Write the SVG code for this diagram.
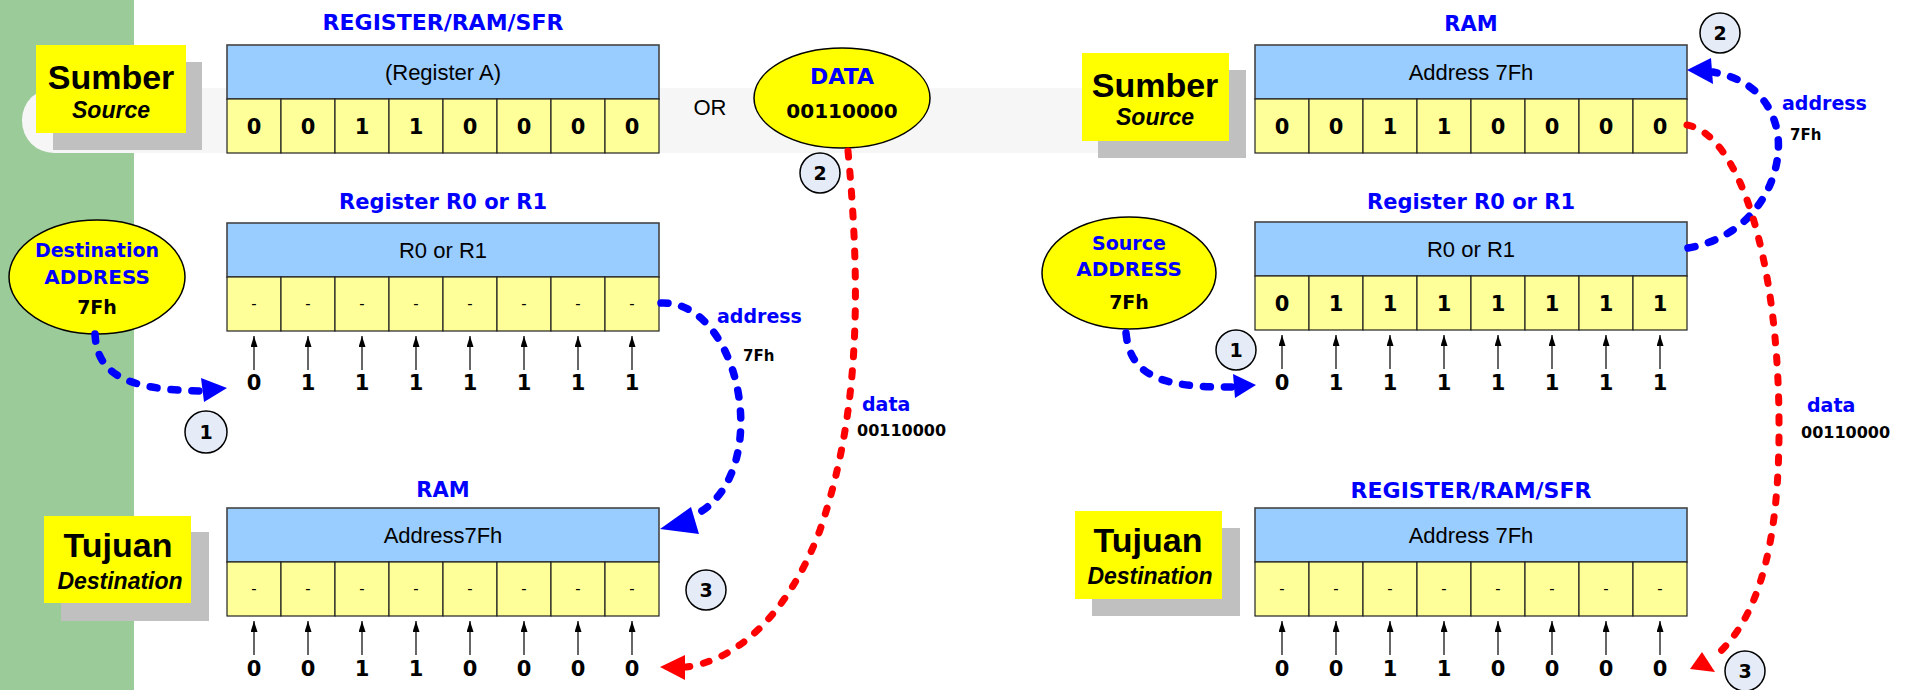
<svg xmlns="http://www.w3.org/2000/svg" xmlns:xlink="http://www.w3.org/1999/xlink" width="1911" height="690" viewBox="0 0 1911 690">
  <style>
    .hdr { fill: #99ccff; stroke: #444; stroke-width: 1.6; }
    .cell { fill: #ffff99; stroke: #222; stroke-width: 1.2; }
    .tag { fill: #ffff00; }
    .shadow { fill: #c0c0c0; }
    .ell { fill: #ffff00; stroke: #000; stroke-width: 1.5; }
    .step { fill: #e6ecf7; stroke: #000; stroke-width: 1.5; }
    .stepn { font-family: "DejaVu Sans", sans-serif; font-weight: bold; font-size: 19px; text-anchor: middle; fill: #000; }
    .lbl { font-family: "DejaVu Sans", sans-serif; font-weight: bold; font-size: 21px; fill: #0000ff; text-anchor: middle; }
    .elbl { font-family: "DejaVu Sans", sans-serif; font-weight: bold; font-size: 19px; fill: #0000ff; text-anchor: middle; }
    .elblk { font-family: "DejaVu Sans", sans-serif; font-weight: bold; font-size: 19px; fill: #000; text-anchor: middle; }
    .note { font-family: "DejaVu Sans", sans-serif; font-weight: bold; font-size: 19px; fill: #0000ff; }
    .notek { font-family: "DejaVu Sans", sans-serif; font-weight: bold; font-size: 15px; fill: #000; }
    .bit { font-family: "DejaVu Sans", sans-serif; font-weight: bold; font-size: 21px; fill: #000; text-anchor: middle; }
    .nil { font-family: "Liberation Sans", Arial, sans-serif; font-size: 16px; fill: #000; text-anchor: middle; }
    .htxt { font-family: "Liberation Sans", Arial, sans-serif; font-size: 22px; fill: #000; text-anchor: middle; }
    .big { font-family: "Liberation Sans", Arial, sans-serif; font-weight: bold; font-size: 34px; fill: #000; text-anchor: middle; }
    .sub { font-family: "Liberation Sans", Arial, sans-serif; font-weight: bold; font-style: italic; font-size: 23px; fill: #000; text-anchor: middle; }
    .flowB { fill: none; stroke: #0000ff; stroke-width: 7.5; stroke-dasharray: 7 14; stroke-linecap: round; }
    .flowR { fill: none; stroke: #ff0000; stroke-width: 7; stroke-dasharray: 6 14; stroke-linecap: round; }
    .headB { fill: #0000ff; }
    .headR { fill: #ff0000; }
    .pin { stroke: #000; stroke-width: 1.2; marker-end: url(#pinhead); }
  </style>
  <defs>
    <marker id="pinhead" markerUnits="userSpaceOnUse" viewBox="0 0 11 7" markerWidth="11" markerHeight="7" refX="11" refY="3.5" orient="auto">
      <path d="M0,0 L11,3.5 L0,7 z" fill="#000"/>
    </marker>
    <!-- a row of eight bit cells, 54 px each -->
    <g id="cells8">
      <rect class="cell" x="0" y="0" width="54" height="54"/>
      <rect class="cell" x="54" y="0" width="54" height="54"/>
      <rect class="cell" x="108" y="0" width="54" height="54"/>
      <rect class="cell" x="162" y="0" width="54" height="54"/>
      <rect class="cell" x="216" y="0" width="54" height="54"/>
      <rect class="cell" x="270" y="0" width="54" height="54"/>
      <rect class="cell" x="324" y="0" width="54" height="54"/>
      <rect class="cell" x="378" y="0" width="54" height="54"/>
    </g>
    <!-- eight small upward arrows feeding a bit row -->
    <g id="pins8">
      <line class="pin" x1="27" y1="34" x2="27" y2="0"/>
      <line class="pin" x1="81" y1="34" x2="81" y2="0"/>
      <line class="pin" x1="135" y1="34" x2="135" y2="0"/>
      <line class="pin" x1="189" y1="34" x2="189" y2="0"/>
      <line class="pin" x1="243" y1="34" x2="243" y2="0"/>
      <line class="pin" x1="297" y1="34" x2="297" y2="0"/>
      <line class="pin" x1="351" y1="34" x2="351" y2="0"/>
      <line class="pin" x1="405" y1="34" x2="405" y2="0"/>
    </g>
  </defs>

  <rect x="0" y="0" width="1911" height="690" fill="#ffffff"/>
  <!-- side strip and background band -->
  <rect x="0" y="0" width="134" height="690" fill="#9ccb9a"/>
  <rect x="22" y="88" width="1215" height="65" rx="32" fill="#f6f6f6"/>

  <!-- ===== left half ===== -->
  <g id="tag-src-left">
    <rect class="shadow" x="53" y="62" width="149" height="88"/>
    <rect class="tag" x="36" y="45" width="150" height="88"/>
    <text class="big" x="111" y="89">Sumber</text>
    <text class="sub" x="111" y="118">Source</text>
  </g>

  <g id="reg-a">
    <text class="lbl" x="443" y="30" style="font-size:22px">REGISTER/RAM/SFR</text>
    <rect class="hdr" x="227" y="45" width="432" height="54"/>
    <text class="htxt" x="443" y="80">(Register A)</text>
    <use xlink:href="#cells8" x="227" y="99"/>
    <text class="bit" x="254" y="134">0</text>
    <text class="bit" x="308" y="134">0</text>
    <text class="bit" x="362" y="134">1</text>
    <text class="bit" x="416" y="134">1</text>
    <text class="bit" x="470" y="134">0</text>
    <text class="bit" x="524" y="134">0</text>
    <text class="bit" x="578" y="134">0</text>
    <text class="bit" x="632" y="134">0</text>
  </g>

  <g id="or-text">
    <text class="htxt" x="710" y="115">OR</text>
  </g>

  <g id="data-imm">
    <ellipse class="ell" cx="842" cy="98" rx="88" ry="50"/>
    <text class="elbl" x="842" y="84" style="font-size:22px">DATA</text>
    <text class="elblk" x="842" y="118" style="font-size:20px">00110000</text>
  </g>

  <g id="dest-addr-left">
    <ellipse class="ell" cx="97" cy="277" rx="88" ry="57"/>
    <text class="elbl" x="97" y="257">Destination</text>
    <text class="elbl" x="97" y="284" style="font-size:20px">ADDRESS</text>
    <text class="elblk" x="97" y="314">7Fh</text>
  </g>

  <g id="reg-r-left">
    <text class="lbl" x="443" y="209">Register R0 or R1</text>
    <rect class="hdr" x="227" y="223" width="432" height="54"/>
    <text class="htxt" x="443" y="258">R0 or R1</text>
    <use xlink:href="#cells8" x="227" y="277"/>
    <text class="nil" x="254" y="309">-</text>
    <text class="nil" x="308" y="309">-</text>
    <text class="nil" x="362" y="309">-</text>
    <text class="nil" x="416" y="309">-</text>
    <text class="nil" x="470" y="309">-</text>
    <text class="nil" x="524" y="309">-</text>
    <text class="nil" x="578" y="309">-</text>
    <text class="nil" x="632" y="309">-</text>
    <use xlink:href="#pins8" x="227" y="336"/>
    <text class="bit" x="254" y="390">0</text>
    <text class="bit" x="308" y="390">1</text>
    <text class="bit" x="362" y="390">1</text>
    <text class="bit" x="416" y="390">1</text>
    <text class="bit" x="470" y="390">1</text>
    <text class="bit" x="524" y="390">1</text>
    <text class="bit" x="578" y="390">1</text>
    <text class="bit" x="632" y="390">1</text>
  </g>

  <g id="tag-dst-left">
    <rect class="shadow" x="61" y="532" width="148" height="89"/>
    <rect class="tag" x="44" y="516" width="147" height="87"/>
    <text class="big" x="118" y="557">Tujuan</text>
    <text class="sub" x="120" y="589">Destination</text>
  </g>

  <g id="ram-left">
    <text class="lbl" x="443" y="497">RAM</text>
    <rect class="hdr" x="227" y="508" width="432" height="54"/>
    <text class="htxt" x="443" y="543">Address7Fh</text>
    <use xlink:href="#cells8" x="227" y="562"/>
    <text class="nil" x="254" y="594">-</text>
    <text class="nil" x="308" y="594">-</text>
    <text class="nil" x="362" y="594">-</text>
    <text class="nil" x="416" y="594">-</text>
    <text class="nil" x="470" y="594">-</text>
    <text class="nil" x="524" y="594">-</text>
    <text class="nil" x="578" y="594">-</text>
    <text class="nil" x="632" y="594">-</text>
    <use xlink:href="#pins8" x="227" y="621"/>
    <text class="bit" x="254" y="676">0</text>
    <text class="bit" x="308" y="676">0</text>
    <text class="bit" x="362" y="676">1</text>
    <text class="bit" x="416" y="676">1</text>
    <text class="bit" x="470" y="676">0</text>
    <text class="bit" x="524" y="676">0</text>
    <text class="bit" x="578" y="676">0</text>
    <text class="bit" x="632" y="676">0</text>
  </g>

  <!-- ===== right half ===== -->
  <g id="tag-src-right">
    <rect class="shadow" x="1098" y="70" width="148" height="88"/>
    <rect class="tag" x="1082" y="53" width="147" height="88"/>
    <text class="big" x="1155" y="97">Sumber</text>
    <text class="sub" x="1155" y="125">Source</text>
  </g>

  <g id="ram-right">
    <text class="lbl" x="1471" y="31">RAM</text>
    <rect class="hdr" x="1255" y="45" width="432" height="54"/>
    <text class="htxt" x="1471" y="80">Address 7Fh</text>
    <use xlink:href="#cells8" x="1255" y="99"/>
    <text class="bit" x="1282" y="134">0</text>
    <text class="bit" x="1336" y="134">0</text>
    <text class="bit" x="1390" y="134">1</text>
    <text class="bit" x="1444" y="134">1</text>
    <text class="bit" x="1498" y="134">0</text>
    <text class="bit" x="1552" y="134">0</text>
    <text class="bit" x="1606" y="134">0</text>
    <text class="bit" x="1660" y="134">0</text>
  </g>

  <g id="src-addr-right">
    <ellipse class="ell" cx="1129" cy="273" rx="87" ry="56"/>
    <text class="elbl" x="1129" y="250">Source</text>
    <text class="elbl" x="1129" y="276" style="font-size:20px">ADDRESS</text>
    <text class="elblk" x="1129" y="309">7Fh</text>
  </g>

  <g id="reg-r-right">
    <text class="lbl" x="1471" y="209">Register R0 or R1</text>
    <rect class="hdr" x="1255" y="222" width="432" height="54"/>
    <text class="htxt" x="1471" y="257">R0 or R1</text>
    <use xlink:href="#cells8" x="1255" y="276"/>
    <text class="bit" x="1282" y="311">0</text>
    <text class="bit" x="1336" y="311">1</text>
    <text class="bit" x="1390" y="311">1</text>
    <text class="bit" x="1444" y="311">1</text>
    <text class="bit" x="1498" y="311">1</text>
    <text class="bit" x="1552" y="311">1</text>
    <text class="bit" x="1606" y="311">1</text>
    <text class="bit" x="1660" y="311">1</text>
    <use xlink:href="#pins8" x="1255" y="335"/>
    <text class="bit" x="1282" y="390">0</text>
    <text class="bit" x="1336" y="390">1</text>
    <text class="bit" x="1390" y="390">1</text>
    <text class="bit" x="1444" y="390">1</text>
    <text class="bit" x="1498" y="390">1</text>
    <text class="bit" x="1552" y="390">1</text>
    <text class="bit" x="1606" y="390">1</text>
    <text class="bit" x="1660" y="390">1</text>
  </g>

  <g id="tag-dst-right">
    <rect class="shadow" x="1092" y="528" width="148" height="88"/>
    <rect class="tag" x="1075" y="511" width="147" height="88"/>
    <text class="big" x="1148" y="552">Tujuan</text>
    <text class="sub" x="1150" y="584">Destination</text>
  </g>

  <g id="dest-right">
    <text class="lbl" x="1471" y="498" style="font-size:22px">REGISTER/RAM/SFR</text>
    <rect class="hdr" x="1255" y="508" width="432" height="54"/>
    <text class="htxt" x="1471" y="543">Address 7Fh</text>
    <use xlink:href="#cells8" x="1255" y="562"/>
    <text class="nil" x="1282" y="594">-</text>
    <text class="nil" x="1336" y="594">-</text>
    <text class="nil" x="1390" y="594">-</text>
    <text class="nil" x="1444" y="594">-</text>
    <text class="nil" x="1498" y="594">-</text>
    <text class="nil" x="1552" y="594">-</text>
    <text class="nil" x="1606" y="594">-</text>
    <text class="nil" x="1660" y="594">-</text>
    <use xlink:href="#pins8" x="1255" y="621"/>
    <text class="bit" x="1282" y="676">0</text>
    <text class="bit" x="1336" y="676">0</text>
    <text class="bit" x="1390" y="676">1</text>
    <text class="bit" x="1444" y="676">1</text>
    <text class="bit" x="1498" y="676">0</text>
    <text class="bit" x="1552" y="676">0</text>
    <text class="bit" x="1606" y="676">0</text>
    <text class="bit" x="1660" y="676">0</text>
  </g>

  <!-- ===== connectors ===== -->
  <g id="connectors">
    <!-- left: address into R0/R1 -->
    <path class="flowB" d="M95 334 C97 372 122 390 202 391"/>
    <polygon class="headB" points="227,388 201,378 204,402"/>
    <!-- left: R0/R1 points at RAM 7Fh -->
    <path class="flowB" d="M661 303 C740 300 775 470 697 514"/>
    <polygon class="headB" points="660,529 691,507 699,534"/>
    <text class="note" x="717" y="323">address</text>
    <text class="notek" x="743" y="361">7Fh</text>
    <!-- left: immediate data into RAM -->
    <path class="flowR" d="M848 151 C862 300 858 420 820 530 C790 610 740 660 686 667"/>
    <polygon class="headR" points="660,667 685,655 685,680"/>
    <text class="note" x="862" y="411">data</text>
    <text class="notek" x="857" y="436" style="font-size:16px">00110000</text>

    <!-- right: address into R0/R1 -->
    <path class="flowB" d="M1126 333 C1130 375 1160 388 1233 387"/>
    <polygon class="headB" points="1256,385 1233,374 1235,398"/>
    <!-- right: R0/R1 points at RAM 7Fh -->
    <path class="flowB" d="M1688 248 C1760 235 1785 170 1777 130 C1769 95 1745 78 1713 72"/>
    <polygon class="headB" points="1687,70 1711,58 1713,84"/>
    <text class="note" x="1782" y="110">address</text>
    <text class="notek" x="1790" y="140">7Fh</text>
    <!-- right: RAM contents to destination -->
    <path class="flowR" d="M1687 125 C1740 135 1778 260 1779 420 C1780 540 1760 620 1712 659"/>
    <polygon class="headR" points="1690,669 1702,652 1715,672"/>
    <text class="note" x="1807" y="412">data</text>
    <text class="notek" x="1801" y="438" style="font-size:16px">00110000</text>
  </g>

  <!-- step markers -->
  <g id="steps">
    <circle class="step" cx="206" cy="432" r="21"/>
    <text class="stepn" x="206" y="439">1</text>
    <circle class="step" cx="820" cy="173" r="20"/>
    <text class="stepn" x="820" y="180">2</text>
    <circle class="step" cx="706" cy="590" r="20"/>
    <text class="stepn" x="706" y="597">3</text>
    <circle class="step" cx="1236" cy="350" r="20"/>
    <text class="stepn" x="1236" y="357">1</text>
    <circle class="step" cx="1720" cy="33" r="20"/>
    <text class="stepn" x="1720" y="40">2</text>
    <circle class="step" cx="1745" cy="671" r="20"/>
    <text class="stepn" x="1745" y="678">3</text>
  </g>
</svg>
